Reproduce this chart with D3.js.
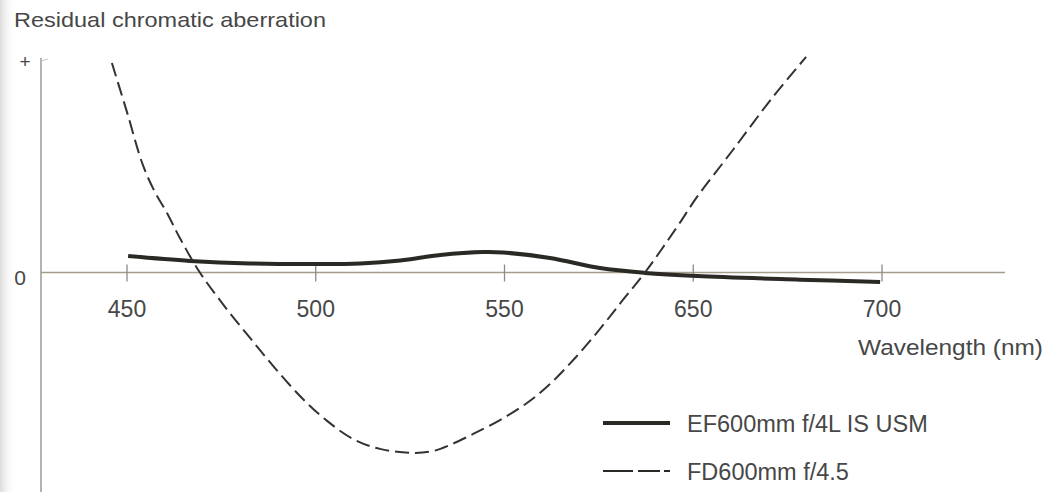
<!DOCTYPE html>
<html>
<head>
<meta charset="utf-8">
<script src="https://cdn.jsdelivr.net/npm/d3@7"></script>
<style>
  body { margin: 0; background: #fff; }
  text { font-family: "Liberation Sans", Arial, Helvetica, sans-serif; fill: #474747; }
</style>
</head>
<body>
<div class="wrapper"></div>
<script>
// axis ticks as printed on the chart (600 is skipped in the original)
var tickValues = [450, 500, 550, 650, 700];
var yLabels = [{v: 1, label: "+"}, {v: 0, label: "0"}];

// EF600mm f/4L IS USM (solid)
var efWave = [450.3, 466.7, 482.6, 500.1, 511.8, 522.4, 533.0, 544.3, 549.6, 574.1, 600.6, 624.4, 651.0, 678.3, 699.5];
var efVal  = [0.078, 0.055, 0.043, 0.040, 0.043, 0.057, 0.083, 0.097, 0.095, 0.069, 0.021, -0.002, -0.017, -0.034, -0.045];

// FD600mm f/4.5 (dashed)
var fdWave = [446.0, 450.0, 454.2, 457.4, 460.6, 464.0, 469.3, 476.0, 482.6, 489.2, 496.6, 503.0, 509.9, 517.0, 526.3, 531.1, 535.6, 541.7, 548.8, 561.9, 574.1, 587.4, 600.6, 612.3, 624.4, 641.4, 651.0, 660.5, 671.1, 679.9];
var fdVal  = [0.995, 0.762, 0.511, 0.382, 0.283, 0.164, 0.0, -0.164, -0.311, -0.454, -0.601, -0.705, -0.791, -0.838, -0.857, -0.848, -0.819, -0.767, -0.701, -0.620, -0.530, -0.406, -0.268, -0.135, 0.0, 0.216, 0.359, 0.582, 0.834, 1.024];

var series = [
  {name: "EF600mm f/4L IS USM", wave: efWave, val: efVal, dash: null, width: 4},
  {name: "FD600mm f/4.5", wave: fdWave, val: fdVal, dash: "14,6", width: 2}
];

var width = 1047, height = 492;

var svg = d3.select(".wrapper")
  .append("svg")
    .attr("width", width)
    .attr("height", height);

// faint scan shadow on the left edge
var grad = svg.append("defs").append("linearGradient").attr("id", "edge");
grad.append("stop").attr("offset", "0%").attr("stop-color", "#dcdcdc");
grad.append("stop").attr("offset", "100%").attr("stop-color", "#fff").attr("stop-opacity", 0);
svg.append("rect").attr("x", 0).attr("y", 0).attr("width", 16).attr("height", height).attr("fill", "url(#edge)");

// ticks are evenly spaced even though the labels jump 550 -> 650
var step = 188.75, x0 = 127;
var x = d3.scaleLinear()
  .domain(tickValues)
  .range(tickValues.map(function(d, i) { return x0 + i * step; }));

var y = d3.scaleLinear().domain([0, 1]).range([272.5, 62]);

var axisLeftX = 41;

// title
svg.append("text")
  .attr("x", 14).attr("y", 27)
  .attr("font-size", 21)
  .attr("textLength", 312).attr("lengthAdjust", "spacingAndGlyphs")
  .text("Residual chromatic aberration");

// y axis
svg.append("line")
  .attr("x1", axisLeftX).attr("x2", axisLeftX)
  .attr("y1", 58).attr("y2", height)
  .attr("stroke", "#9a9a9a").attr("stroke-width", 1.5);
svg.append("line")
  .attr("x1", axisLeftX).attr("x2", axisLeftX + 7)
  .attr("y1", y(1) - 1).attr("y2", y(1) - 3)
  .attr("stroke", "#c8c8c8").attr("stroke-width", 1);

svg.selectAll(".ylab")
  .data(yLabels)
  .enter().append("text")
    .attr("class", "ylab")
    .attr("x", function(d) { return d.v === 0 ? 20 : 25; })
    .attr("y", function(d) { return y(d.v) + (d.v === 0 ? 7 : 1); })
    .attr("text-anchor", "middle")
    .attr("dominant-baseline", "middle")
    .attr("font-size", function(d) { return d.v === 0 ? 21 : 19; })
    .text(function(d) { return d.label; });

// zero line (x axis)
svg.append("line")
  .attr("x1", axisLeftX).attr("x2", 1005)
  .attr("y1", y(0)).attr("y2", y(0))
  .attr("stroke", "#a39d8a").attr("stroke-width", 1.3);

var ticks = svg.append("g").selectAll("g")
  .data(tickValues)
  .enter().append("g")
    .attr("transform", function(d) { return "translate(" + x(d) + "," + y(0) + ")"; });

ticks.append("line")
  .attr("y1", -8).attr("y2", 9)
  .attr("stroke", "#8a8a8a").attr("stroke-width", 1.3);

ticks.append("text")
  .attr("y", 44)
  .attr("text-anchor", "middle")
  .attr("font-size", 23)
  .text(function(d) { return d; });

svg.append("text")
  .attr("x", 858).attr("y", 355)
  .attr("font-size", 22.5)
  .attr("textLength", 185).attr("lengthAdjust", "spacingAndGlyphs")
  .text("Wavelength (nm)");

// curves
var line = d3.line()
  .x(function(d) { return x(d[0]); })
  .y(function(d) { return y(d[1]); })
  .curve(d3.curveCatmullRom.alpha(0.5));

svg.append("g").selectAll("path")
  .data(series)
  .enter().append("path")
    .attr("d", function(s) { return line(d3.zip(s.wave, s.val)); })
    .attr("fill", "none")
    .attr("stroke", function(s) { return s.dash ? "#333" : "#2b2925"; })
    .attr("stroke-width", function(s) { return s.width; })
    .attr("stroke-dasharray", function(s) { return s.dash; });

// legend
var legend = svg.append("g").selectAll("g")
  .data(series)
  .enter().append("g")
    .attr("transform", function(d, i) { return "translate(603," + (423 + i * 48) + ")"; });

legend.append("line")
  .attr("x1", 0).attr("x2", 67)
  .attr("stroke", "#2b2925")
  .attr("stroke-width", function(s) { return s.dash ? 2 : 4; })
  .attr("stroke-dasharray", function(s) { return s.dash ? "30,5,22,4,7,40" : null; });

legend.append("text")
  .attr("x", 84)
  .attr("y", 9)
  .attr("font-size", 23.5)
  .text(function(s) { return s.name; });
</script>
</body>
</html>
